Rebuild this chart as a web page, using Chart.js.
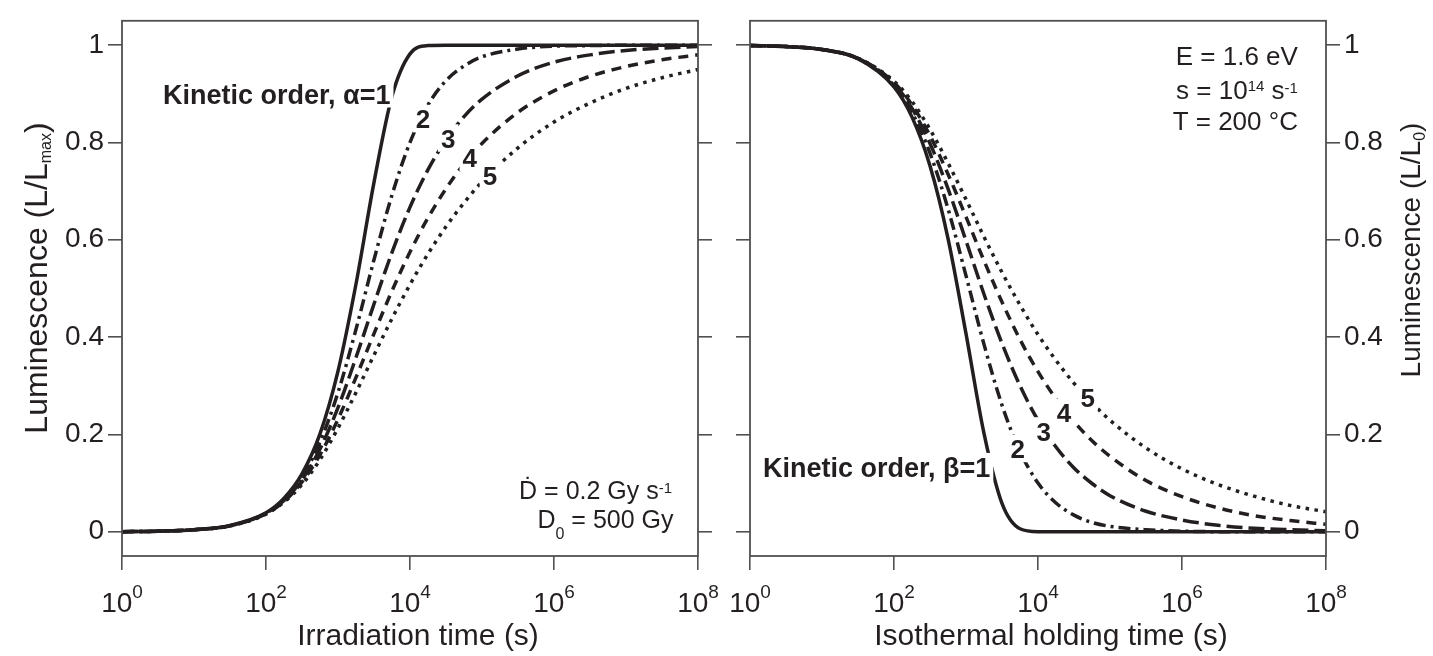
<!DOCTYPE html>
<html>
<head>
<meta charset="utf-8">
<script src="https://cdn.jsdelivr.net/npm/chart.js@4.4.1/dist/chart.umd.min.js"></script>
<style>
  html, body { margin: 0; padding: 0; background: #fff; }
  #wrap { position: relative; width: 1433px; height: 656px; }
  canvas { position: absolute; top: 0; }
  #dosePanel { left: 0; }
  #decayPanel { left: 716px; }
</style>
</head>
<body>
<div id="wrap">
  <canvas id="dosePanel" width="740" height="656"></canvas>
  <canvas id="decayPanel" width="717" height="656"></canvas>
</div>
<script>
// ======================================
// Data
// ======================================

// sample times in seconds, shared by both panels
const times = [1, 3.16, 10, 31.6, 100, 178, 316, 562, 1000, 1778, 3162, 5623, 1e4,
  17783, 31623, 56234, 1e5, 316228, 1e6, 3162278, 1e7, 31622777, 1e8];

// left panel: growth with irradiation time, kinetic order alpha = 1..5
const growthAlpha1 = [0.000, 0.001, 0.004, 0.013, 0.039, 0.069, 0.119, 0.201, 0.330, 0.509, 0.718, 0.895, 0.982, 0.999, 1.000, 1.000, 1.000, 1.000, 1.000, 1.000, 1.000, 1.000, 1.000];
const growthAlpha2 = [0.000, 0.001, 0.004, 0.012, 0.038, 0.066, 0.112, 0.184, 0.286, 0.416, 0.559, 0.692, 0.800, 0.877, 0.927, 0.957, 0.976, 0.992, 0.998, 0.999, 1.000, 1.000, 1.000];
const growthAlpha3 = [0.000, 0.001, 0.004, 0.012, 0.038, 0.064, 0.107, 0.170, 0.255, 0.358, 0.468, 0.574, 0.667, 0.744, 0.805, 0.853, 0.889, 0.937, 0.965, 0.980, 0.989, 0.994, 0.997];
const growthAlpha4 = [0.000, 0.001, 0.004, 0.012, 0.037, 0.062, 0.102, 0.158, 0.231, 0.317, 0.407, 0.495, 0.575, 0.645, 0.705, 0.756, 0.798, 0.862, 0.906, 0.936, 0.956, 0.970, 0.980];
const growthAlpha5 = [0.000, 0.001, 0.004, 0.012, 0.036, 0.061, 0.097, 0.148, 0.213, 0.286, 0.363, 0.438, 0.508, 0.571, 0.627, 0.676, 0.719, 0.789, 0.842, 0.881, 0.911, 0.933, 0.950];

// right panel: isothermal decay, kinetic order beta = 1..5
const decayBeta1 = [0.999, 0.997, 0.991, 0.972, 0.914, 0.852, 0.752, 0.603, 0.407, 0.202, 0.058, 0.006, 0.000, 0.000, 0.000, 0.000, 0.000, 0.000, 0.000, 0.000, 0.000, 0.000, 0.000];
const decayBeta2 = [0.999, 0.997, 0.991, 0.972, 0.917, 0.862, 0.778, 0.664, 0.526, 0.385, 0.260, 0.165, 0.100, 0.059, 0.034, 0.019, 0.011, 0.004, 0.001, 0.000, 0.000, 0.000, 0.000];
const decayBeta3 = [0.999, 0.997, 0.991, 0.973, 0.921, 0.870, 0.798, 0.705, 0.598, 0.488, 0.387, 0.300, 0.229, 0.174, 0.131, 0.099, 0.074, 0.042, 0.024, 0.013, 0.007, 0.004, 0.002];
const decayBeta4 = [0.999, 0.997, 0.991, 0.973, 0.923, 0.877, 0.814, 0.735, 0.647, 0.557, 0.472, 0.395, 0.329, 0.273, 0.226, 0.187, 0.155, 0.105, 0.072, 0.049, 0.033, 0.023, 0.015];
const decayBeta5 = [0.999, 0.997, 0.991, 0.973, 0.926, 0.884, 0.827, 0.758, 0.683, 0.606, 0.533, 0.466, 0.405, 0.352, 0.305, 0.265, 0.229, 0.172, 0.129, 0.097, 0.073, 0.054, 0.041];

// tick values
const timeTicks = [1, 1e2, 1e4, 1e6, 1e8];
const timeTickExponents = ["0", "2", "4", "6", "8"];
const lumTicks = [0, 0.2, 0.4, 0.6, 0.8, 1];

// ======================================
// Styles
// ======================================

const FONT = "'Liberation Sans', Arial, Helvetica, sans-serif";
const INK = "#231f20";
const AXIS = "#505050";
const DASHES = [[], [12, 5, 3, 5], [16, 6], [10, 7], [3.5, 5.5]];

Chart.defaults.font.family = FONT;
Chart.defaults.color = INK;

// draws a run of text pieces (normal / super / sub) on one baseline
function drawRich(ctx, parts, x, y, align, opts = {}) {
  const weight = opts.bold ? "bold " : "";
  const widths = parts.map((p) => {
    ctx.font = weight + p.size + "px " + FONT;
    return ctx.measureText(p.text).width;
  });
  const total = widths.reduce((a, b) => a + b, 0);
  let cx = align === "right" ? x - total : align === "center" ? x - total / 2 : x;

  if (opts.bg) {
    const h = parts[0].size * 0.75;
    ctx.fillStyle = "#fff";
    ctx.fillRect(cx - 3, y - h - 4, total + 6, h + 8);
  }

  ctx.fillStyle = INK;
  ctx.textAlign = "left";
  ctx.textBaseline = "alphabetic";
  parts.forEach((p, i) => {
    ctx.font = weight + p.size + "px " + FONT;
    ctx.fillText(p.text, cx, y + (p.dy || 0));
    cx += widths[i];
  });
}

// frame, tick labels with exponents, axis titles and notes
const decorPlugin = {
  id: "decor",
  afterDraw(chart, args, o) {
    const { ctx, chartArea: a, scales } = chart;
    const xs = scales.x;
    const ys = scales.y;

    ctx.save();
    ctx.strokeStyle = AXIS;
    ctx.lineWidth = 1.8;
    ctx.strokeRect(a.left, a.top, a.right - a.left, a.bottom - a.top);

    // x tick labels 10^n
    timeTicks.forEach((v, i) => {
      drawRich(ctx, [
        { text: "10", size: 28 },
        { text: timeTickExponents[i], size: 19, dy: -14 },
      ], xs.getPixelForValue(v), 612, "center");
    });

    // x title
    drawRich(ctx, [{ text: o.xTitle, size: 30 }], (a.left + a.right) / 2 + o.xTitleShift, 645, "center");

    // y title, rotated
    ctx.save();
    ctx.translate(o.yTitleX, o.yTitleY);
    ctx.rotate(-Math.PI / 2);
    drawRich(ctx, o.yTitle, 0, 0, "center");
    ctx.restore();

    // curve labels (white box behind, as in the figure)
    o.labels.forEach((l) => {
      drawRich(ctx, [{ text: l.text, size: l.size }],
        xs.getPixelForValue(l.x), ys.getPixelForValue(l.y), l.align, { bold: true, bg: true });
    });

    // parameter notes
    o.notes.forEach((n) => {
      drawRich(ctx, n.parts, xs.getPixelForValue(n.x), ys.getPixelForValue(n.y), "right");
    });
    ctx.restore();
  },
};

function makeDatasets(series) {
  return series.map((vals, i) => ({
    label: "order " + (i + 1),
    data: times.map((t, j) => ({ x: t, y: vals[j] })),
    borderColor: INK,
    borderWidth: 3.5,
    borderDash: DASHES[i],
    borderCapStyle: "butt",
    pointRadius: 0,
    cubicInterpolationMode: "monotone",
    fill: false,
  }));
}

function lumAxis(position, width, showLabels) {
  return {
    type: "linear",
    position: position,
    min: -0.05,
    max: 1.05,
    afterBuildTicks: (s) => { s.ticks = lumTicks.map((v) => ({ value: v })); },
    afterFit: (s) => { s.width = width; },
    border: { display: false },
    grid: { drawOnChartArea: false, drawTicks: true, tickLength: 14, color: AXIS, lineWidth: 1.6 },
    ticks: {
      display: showLabels,
      autoSkip: false,
      padding: 4,
      color: INK,
      font: { size: 28 },
      callback: (v) => (v === 0 ? "0" : v === 1 ? "1" : v.toFixed(1)),
    },
  };
}

function timeAxis() {
  return {
    type: "logarithmic",
    position: "bottom",
    min: 1,
    max: 1e8,
    afterBuildTicks: (s) => { s.ticks = timeTicks.map((v) => ({ value: v })); },
    afterFit: (s) => { s.height = 100; },
    border: { display: false },
    grid: { drawOnChartArea: false, drawTicks: true, tickLength: 14, color: AXIS, lineWidth: 1.6 },
    ticks: { display: false, autoSkip: false },
  };
}

function baseOptions(scales, decor) {
  return {
    responsive: false,
    animation: false,
    layout: { padding: { top: 8, left: 0, right: 0, bottom: 0 } },
    scales: scales,
    plugins: {
      legend: { display: false },
      tooltip: { enabled: false },
      decor: decor,
    },
  };
}

// ======================================
// Left panel: irradiation
// ======================================

new Chart(document.getElementById("dosePanel"), {
  type: "line",
  data: { datasets: makeDatasets([growthAlpha1, growthAlpha2, growthAlpha3, growthAlpha4, growthAlpha5]) },
  options: baseOptions({
    x: timeAxis(),
    y: lumAxis("left", 122, true),
    yEdge: lumAxis("right", 42, false),
  }, {
    xTitle: "Irradiation time (s)",
    xTitleShift: 8,
    yTitleX: 47,
    yTitleY: 278,
    yTitle: [
      { text: "Luminescence (L/L", size: 32 },
      { text: "max", size: 16, dy: 4 },
      { text: ")", size: 32 },
    ],
    labels: [
      { text: "Kinetic order, α=1", size: 27, x: 10 ** 0.57, y: 0.880, align: "left" },
      { text: "2", size: 26, x: 10 ** 4.18, y: 0.829, align: "center" },
      { text: "3", size: 26, x: 10 ** 4.53, y: 0.789, align: "center" },
      { text: "4", size: 26, x: 10 ** 4.83, y: 0.749, align: "center" },
      { text: "5", size: 26, x: 10 ** 5.11, y: 0.713, align: "center" },
    ],
    notes: [
      { x: 10 ** 7.64, y: 0.068, parts: [
        { text: "Ḋ = 0.2 Gy s", size: 25 },
        { text: "-1", size: 15, dy: -6 },
      ] },
      { x: 10 ** 7.66, y: 0.008, parts: [
        { text: "D", size: 25 },
        { text: "0", size: 16, dy: 11 },
        { text: " = 500 Gy", size: 25 },
      ] },
    ],
  }),
  plugins: [decorPlugin],
});

// ======================================
// Right panel: isothermal holding
// ======================================

new Chart(document.getElementById("decayPanel"), {
  type: "line",
  data: { datasets: makeDatasets([decayBeta1, decayBeta2, decayBeta3, decayBeta4, decayBeta5]) },
  options: baseOptions({
    x: timeAxis(),
    y: lumAxis("right", 107, true),
    yEdge: lumAxis("left", 34, false),
  }, {
    xTitle: "Isothermal holding time (s)",
    xTitleShift: 13,
    yTitleX: 1420 - 716,
    yTitleY: 250,
    yTitle: [
      { text: "Luminescence (L/L", size: 28 },
      { text: "0", size: 16, dy: 5 },
      { text: ")", size: 28 },
    ],
    labels: [
      { text: "Kinetic order, β=1", size: 27, x: 10 ** 0.18, y: 0.112, align: "left" },
      { text: "2", size: 26, x: 10 ** 3.72, y: 0.151, align: "center" },
      { text: "3", size: 26, x: 10 ** 4.08, y: 0.187, align: "center" },
      { text: "4", size: 26, x: 10 ** 4.36, y: 0.225, align: "center" },
      { text: "5", size: 26, x: 10 ** 4.69, y: 0.257, align: "center" },
    ],
    notes: [
      { x: 10 ** 7.61, y: 0.960, parts: [{ text: "E = 1.6 eV", size: 26 }] },
      { x: 10 ** 7.61, y: 0.890, parts: [
        { text: "s = 10", size: 26 },
        { text: "14", size: 15, dy: -8 },
        { text: " s", size: 26 },
        { text: "-1", size: 15, dy: -6 },
      ] },
      { x: 10 ** 7.61, y: 0.825, parts: [{ text: "T = 200 °C", size: 26 }] },
    ],
  }),
  plugins: [decorPlugin],
});
</script>
</body>
</html>
